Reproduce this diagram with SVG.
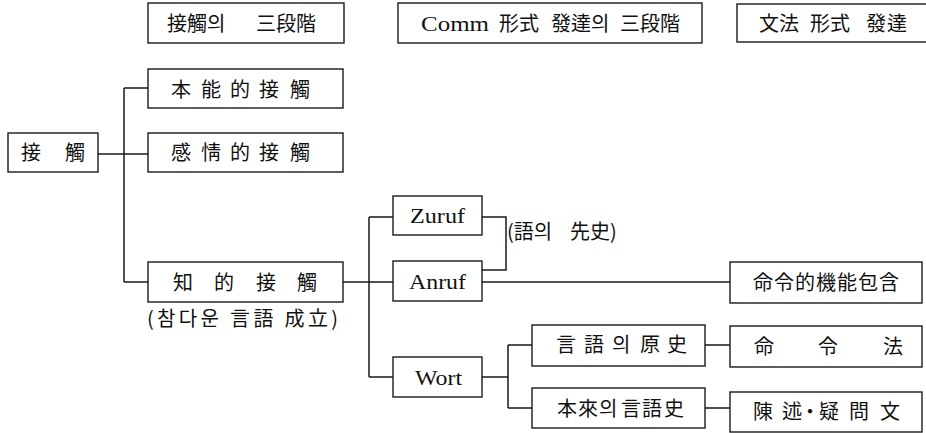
<svg xmlns="http://www.w3.org/2000/svg" width="926" height="433" viewBox="0 0 926 433">
<style>
.box{fill:none;stroke:#1a1a1a;stroke-width:1.4}
.ln{fill:none;stroke:#1a1a1a;stroke-width:1.5}
.cj{font-family:"Noto Sans CJK KR","Noto Sans CJK TC",sans-serif;font-size:20px;fill:#111}
.lt{font-family:"Liberation Serif","Noto Sans CJK KR",serif;font-size:22px;fill:#111}
</style>
<rect width="926" height="433" fill="#fff"/>
<g id="h1"><rect class="box" x="148" y="3" width="196" height="40"/><text class="cj" y="31"><tspan x="167 187 207">接觸의</tspan><tspan x="256 276 296">三段階</tspan></text></g>
<g id="h2"><rect class="box" x="398" y="3" width="304" height="40"/><text class="lt" x="421" y="31" textLength="68" lengthAdjust="spacingAndGlyphs">Comm</text><text class="cj" y="31"><tspan x="499 519">形式</tspan><tspan x="551 571 591">發達의</tspan><tspan x="620 640 660">三段階</tspan></text></g>
<g id="h3"><rect class="box" x="737" y="4" width="200" height="38"/><text class="cj" y="31"><tspan x="759 779">文法</tspan><tspan x="810 830">形式</tspan><tspan x="866 887">發達</tspan></text></g>
<g id="jeopchok"><rect class="box" x="8" y="133" width="90" height="39"/><text class="cj" x="21 65" y="160">接觸</text></g>
<g id="boneung"><rect class="box" x="148" y="69" width="195" height="39"/><text class="cj" x="171 201 230 259 290" y="97">本能的接觸</text></g>
<g id="gamjeong"><rect class="box" x="148" y="133" width="195" height="39"/><text class="cj" x="171 201 230 259 290" y="160">感情的接觸</text></g>
<g id="jijeok"><rect class="box" x="148" y="262" width="195" height="40"/><text class="cj" x="173 214 256 297" y="290">知的接觸</text><text class="cj" x="147" y="326" textLength="191" lengthAdjust="spacing">(참다운 言語 成立)</text></g>
<g id="zuruf"><rect class="box" x="393" y="196" width="89" height="39"/><text class="lt" x="410" y="223" textLength="55" lengthAdjust="spacingAndGlyphs">Zuruf</text></g>
<g id="anruf"><rect class="box" x="393" y="261" width="89" height="40"/><text class="lt" x="409" y="289" textLength="57" lengthAdjust="spacingAndGlyphs">Anruf</text></g>
<g id="wort"><rect class="box" x="393" y="357" width="89" height="40"/><text class="lt" x="415" y="385" textLength="47" lengthAdjust="spacingAndGlyphs">Wort</text></g>
<g id="seonsa"><text class="cj" y="239"><tspan x="507">(語의</tspan><tspan x="570">先史)</tspan></text></g>
<g id="myeongryeong-gineung"><rect class="box" x="730" y="262" width="192" height="41"/><text class="cj" x="753 774 795 816 837 858 879" y="290">命令的機能包含</text></g>
<g id="eoneo-wonsa"><rect class="box" x="532" y="325" width="173" height="41"/><text class="cj" x="556 584 612 640 667" y="352">言語의原史</text></g>
<g id="bonrae"><rect class="box" x="532" y="388" width="173" height="40"/><text class="cj" x="557 578 599 621 642 664" y="416">本來의言語史</text></g>
<g id="myeongryeongbeop"><rect class="box" x="730" y="326" width="192" height="41"/><text class="cj" x="754 818 883" y="354">命令法</text></g>
<g id="jinsul"><rect class="box" x="730" y="392" width="192" height="40"/><text class="cj" x="753 782 800 819 849 880" y="419">陳述・疑問文</text></g>
<g id="connectors">
<path class="ln" d="M98 154H124M124 88V282M124 88H148M124 154H148M124 282H148"/>
<path class="ln" d="M343 282H369M369 217V377M369 217H393M369 282H393M369 377H393"/>
<path class="ln" d="M482 217H506V270H482"/>
<path class="ln" d="M482 282H730"/>
<path class="ln" d="M482 377H508M508 345V408M508 345H532M508 408H532"/>
<path class="ln" d="M705 345H730M705 408H730"/>
</g>
</svg>
